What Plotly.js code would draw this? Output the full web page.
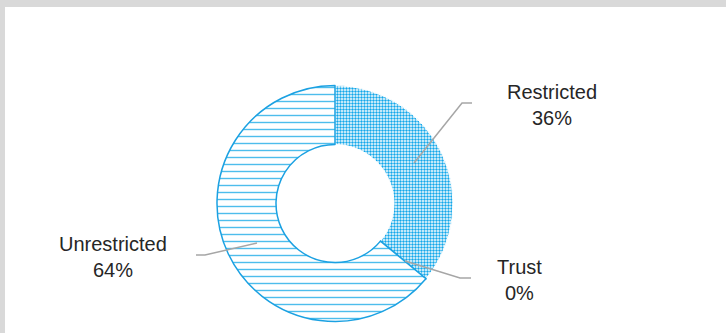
<!DOCTYPE html>
<html>
<head>
<meta charset="utf-8">
<script src="https://cdn.plot.ly/plotly-3.0.1.min.js"></script>
<style>
  html, body { margin: 0; padding: 0; background: #ffffff; }
  #chart { width: 726px; height: 333px; }
</style>
</head>
<body>
<div id="chart"></div>
<script>
// ---- data ----
const categories = ["Restricted", "Trust", "Unrestricted"];
const shareValues = [36, 0, 64];

// ---- helpers ----
const W = 726, H = 333;
const px = x => x / W;
const py = y => 1 - y / H;
const total = shareValues.reduce((a, b) => a + b, 0);
const pctLabels = shareValues.map(v => Math.round(v / total * 100) + "%");

// label placement (layout only)
const labelPos = [
  { x: 552, y: 105 },
  { x: 519, y: 280 },
  { x: 113, y: 257 }
];
const leaderPaths = [
  [[414, 163], [462, 103], [472, 103]],
  [[405, 261], [460, 278], [471, 278]],
  [[257, 243], [205, 255], [196, 255]]
];

const cx = 335, cy = 203.5, R = 118;

const trace = {
  type: "pie",
  labels: categories,
  values: shareValues,
  sort: false,
  direction: "clockwise",
  rotation: 0,
  hole: 0.5,
  textinfo: "none",
  hoverinfo: "label+percent",
  showlegend: false,
  domain: { x: [px(cx - R), px(cx + R)], y: [py(cy + R), py(cy - R)] },
  marker: {
    colors: ["#ffffff", "#ffffff", "#ffffff"],
    pattern: {
      shape: [".", "-", "-"],
      fgcolor: ["#12a7ea", "#4dbdec", "#4dbdec"],
      bgcolor: ["#ffffff", "#ffffff", "#ffffff"],
      size: [3, 7, 7],
      solidity: [0.5, 0.2, 0.2],
      fillmode: "replace"
    },
    line: { color: ["#ffffff", "#1ba1e2", "#1ba1e2"], width: [1, 1.5, 1.5] }
  }
};

const annotations = categories.map((c, i) => ({
  xref: "paper", yref: "paper",
  x: px(labelPos[i].x), y: py(labelPos[i].y),
  xanchor: "center", yanchor: "middle",
  text: c + "<br>" + pctLabels[i],
  showarrow: false,
  align: "center",
  font: { family: "Liberation Sans, Arial, sans-serif", size: 20, color: "#262626" }
}));

const shapes = leaderPaths.map(p => ({
  type: "path",
  xref: "paper", yref: "paper",
  path: "M" + p.map(pt => px(pt[0]) + "," + py(pt[1])).join(" L"),
  line: { color: "#a6a6a6", width: 1.5 }
}));
// frame bands
shapes.push({ type: "rect", xref: "paper", yref: "paper", x0: 0, x1: 1, y0: py(7), y1: 1, fillcolor: "#d9d9d9", line: { width: 0 }, layer: "below" });
shapes.push({ type: "rect", xref: "paper", yref: "paper", x0: 0, x1: px(5), y0: 0, y1: 1, fillcolor: "#d9d9d9", line: { width: 0 }, layer: "below" });

const layout = {
  width: W, height: H,
  margin: { l: 0, r: 0, t: 0, b: 0, pad: 0 },
  paper_bgcolor: "#ffffff",
  plot_bgcolor: "#ffffff",
  annotations: annotations,
  shapes: shapes,
  showlegend: false
};

Plotly.newPlot("chart", [trace], layout, { displayModeBar: false, staticPlot: true });
</script>
</body>
</html>
